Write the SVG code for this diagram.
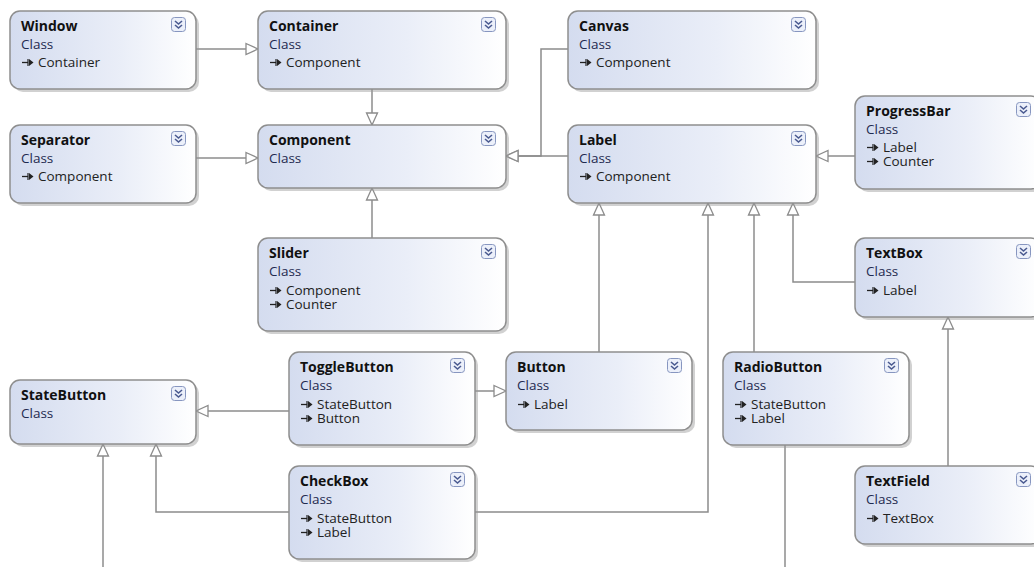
<svg xmlns="http://www.w3.org/2000/svg" xmlns:xlink="http://www.w3.org/1999/xlink" width="1034" height="567" viewBox="0 0 1034 567">
  <defs>
    <linearGradient id="boxFill" x1="0" y1="0" x2="1" y2="0">
      <stop offset="0" stop-color="#d4dcef"/>
      <stop offset="0.6" stop-color="#eaeef8"/>
      <stop offset="1" stop-color="#ffffff"/>
    </linearGradient>
    <marker id="inherit" markerUnits="userSpaceOnUse" markerWidth="14" markerHeight="14" refX="13" refY="6.5" orient="auto" viewBox="0 0 14 13">
      <path d="M1,1 L13,6.5 L1,12 Z" fill="#ffffff" stroke="#8c8c8c" stroke-width="1.3"/>
    </marker>
    <!-- base-type icon drawn before each member line -->
    <g id="baseIcon">
      <path d="M0,-4.5 L6,-4.5" stroke="#222" stroke-width="1.3" fill="none"/>
      <path d="M6,-8 L6,-1" stroke="#222" stroke-width="1.2" fill="none"/>
      <path d="M7,-8 L7,-1 L11.5,-4.5 Z" fill="#222"/>
    </g>
    <!-- collapse/expand toggle in the header -->
    <g id="toggle">
      <rect x="0.5" y="0.5" width="14" height="14" rx="3" fill="#ecf0fa" stroke="#8796c0" stroke-width="1"/>
      <path d="M4,4 L7.5,7 L11,4 M4,8 L7.5,11 L11,8" fill="none" stroke="#4a5a90" stroke-width="1.6"/>
    </g>
  </defs>
  <style>
    .shadow { fill: #9a9a9a; opacity: 0.45; }
    .box { fill: url(#boxFill); stroke: #8e8e8e; stroke-width: 1.5; }
    .title { font-family: "Open Sans", "DejaVu Sans", sans-serif; font-size: 14px; font-weight: bold; fill: #111; }
    .kind { font-family: "Open Sans", "DejaVu Sans", sans-serif; font-size: 13.5px; fill: #1e2a50; }
    .member { font-family: "Open Sans", "DejaVu Sans", sans-serif; font-size: 13.5px; fill: #222; }
    .link { fill: none; stroke: #8c8c8c; stroke-width: 1.5; marker-end: url(#inherit); }
    .plain { fill: none; stroke: #8c8c8c; stroke-width: 1.5; }
  </style>
  <rect width="1034" height="567" fill="#ffffff"/>

  <g id="connectors">
    <path class="link" d="M196,49 H258"/>
    <path class="link" d="M372,89 V125"/>
    <path class="link" d="M196,158 H258"/>
    <path class="link" d="M568,49 H541 V156 H506"/>
    <path class="link" d="M568,156 H506"/>
    <path class="link" d="M372,238 V188"/>
    <path class="link" d="M855,156 H816"/>
    <path class="link" d="M855,282 H793 V203"/>
    <path class="link" d="M599,352 V203"/>
    <path class="link" d="M475,512 H708 V203"/>
    <path class="link" d="M754,352 V203"/>
    <path class="link" d="M289,411 H196"/>
    <path class="link" d="M475,391 H506"/>
    <path class="link" d="M289,512 H156 V444"/>
    <path class="link" d="M103,567 V444"/>
    <path class="plain" d="M785,445 V567"/>
    <path class="link" d="M948,466 V317"/>
  </g>

  <g id="Window">
    <rect class="shadow" x="13" y="14" width="186" height="78" rx="10"/>
    <rect class="box" x="10" y="11" width="186" height="78" rx="10"/>
    <text class="title" x="21" y="31">Window</text>
    <text class="kind" x="21" y="49">Class</text>
    <use xlink:href="#baseIcon" x="22" y="67"/>
    <text class="member" x="38" y="67">Container</text>
    <use xlink:href="#toggle" x="171" y="17"/>
  </g>

  <g id="Container">
    <rect class="shadow" x="261" y="14" width="248" height="78" rx="10"/>
    <rect class="box" x="258" y="11" width="248" height="78" rx="10"/>
    <text class="title" x="269" y="31">Container</text>
    <text class="kind" x="269" y="49">Class</text>
    <use xlink:href="#baseIcon" x="270" y="67"/>
    <text class="member" x="286" y="67">Component</text>
    <use xlink:href="#toggle" x="481" y="17"/>
  </g>

  <g id="Canvas">
    <rect class="shadow" x="571" y="14" width="248" height="78" rx="10"/>
    <rect class="box" x="568" y="11" width="248" height="78" rx="10"/>
    <text class="title" x="579" y="31">Canvas</text>
    <text class="kind" x="579" y="49">Class</text>
    <use xlink:href="#baseIcon" x="580" y="67"/>
    <text class="member" x="596" y="67">Component</text>
    <use xlink:href="#toggle" x="791" y="17"/>
  </g>

  <g id="Separator">
    <rect class="shadow" x="13" y="128" width="186" height="78" rx="10"/>
    <rect class="box" x="10" y="125" width="186" height="78" rx="10"/>
    <text class="title" x="21" y="145">Separator</text>
    <text class="kind" x="21" y="163">Class</text>
    <use xlink:href="#baseIcon" x="22" y="181"/>
    <text class="member" x="38" y="181">Component</text>
    <use xlink:href="#toggle" x="171" y="131"/>
  </g>

  <g id="Component">
    <rect class="shadow" x="261" y="128" width="248" height="63" rx="10"/>
    <rect class="box" x="258" y="125" width="248" height="63" rx="10"/>
    <text class="title" x="269" y="145">Component</text>
    <text class="kind" x="269" y="163">Class</text>
    <use xlink:href="#toggle" x="481" y="131"/>
  </g>

  <g id="Label">
    <rect class="shadow" x="571" y="128" width="248" height="78" rx="10"/>
    <rect class="box" x="568" y="125" width="248" height="78" rx="10"/>
    <text class="title" x="579" y="145">Label</text>
    <text class="kind" x="579" y="163">Class</text>
    <use xlink:href="#baseIcon" x="580" y="181"/>
    <text class="member" x="596" y="181">Component</text>
    <use xlink:href="#toggle" x="791" y="131"/>
  </g>

  <g id="ProgressBar">
    <rect class="shadow" x="858" y="99" width="186" height="93" rx="10"/>
    <rect class="box" x="855" y="96" width="186" height="93" rx="10"/>
    <text class="title" x="866" y="116">ProgressBar</text>
    <text class="kind" x="866" y="134">Class</text>
    <use xlink:href="#baseIcon" x="867" y="152"/>
    <text class="member" x="883" y="152">Label</text>
    <use xlink:href="#baseIcon" x="867" y="166"/>
    <text class="member" x="883" y="166">Counter</text>
    <use xlink:href="#toggle" x="1016" y="102"/>
  </g>

  <g id="Slider">
    <rect class="shadow" x="261" y="241" width="248" height="93" rx="10"/>
    <rect class="box" x="258" y="238" width="248" height="93" rx="10"/>
    <text class="title" x="269" y="258">Slider</text>
    <text class="kind" x="269" y="276">Class</text>
    <use xlink:href="#baseIcon" x="270" y="295"/>
    <text class="member" x="286" y="295">Component</text>
    <use xlink:href="#baseIcon" x="270" y="309"/>
    <text class="member" x="286" y="309">Counter</text>
    <use xlink:href="#toggle" x="481" y="244"/>
  </g>

  <g id="TextBox">
    <rect class="shadow" x="858" y="241" width="186" height="79" rx="10"/>
    <rect class="box" x="855" y="238" width="186" height="79" rx="10"/>
    <text class="title" x="866" y="258">TextBox</text>
    <text class="kind" x="866" y="276">Class</text>
    <use xlink:href="#baseIcon" x="867" y="295"/>
    <text class="member" x="883" y="295">Label</text>
    <use xlink:href="#toggle" x="1016" y="244"/>
  </g>

  <g id="StateButton">
    <rect class="shadow" x="13" y="383" width="186" height="64" rx="10"/>
    <rect class="box" x="10" y="380" width="186" height="64" rx="10"/>
    <text class="title" x="21" y="400">StateButton</text>
    <text class="kind" x="21" y="418">Class</text>
    <use xlink:href="#toggle" x="171" y="386"/>
  </g>

  <g id="ToggleButton">
    <rect class="shadow" x="292" y="355" width="186" height="93" rx="10"/>
    <rect class="box" x="289" y="352" width="186" height="93" rx="10"/>
    <text class="title" x="300" y="372">ToggleButton</text>
    <text class="kind" x="300" y="390">Class</text>
    <use xlink:href="#baseIcon" x="301" y="409"/>
    <text class="member" x="317" y="409">StateButton</text>
    <use xlink:href="#baseIcon" x="301" y="423"/>
    <text class="member" x="317" y="423">Button</text>
    <use xlink:href="#toggle" x="450" y="358"/>
  </g>

  <g id="Button">
    <rect class="shadow" x="509" y="355" width="186" height="78" rx="10"/>
    <rect class="box" x="506" y="352" width="186" height="78" rx="10"/>
    <text class="title" x="517" y="372">Button</text>
    <text class="kind" x="517" y="390">Class</text>
    <use xlink:href="#baseIcon" x="518" y="409"/>
    <text class="member" x="534" y="409">Label</text>
    <use xlink:href="#toggle" x="667" y="358"/>
  </g>

  <g id="RadioButton">
    <rect class="shadow" x="726" y="355" width="186" height="93" rx="10"/>
    <rect class="box" x="723" y="352" width="186" height="93" rx="10"/>
    <text class="title" x="734" y="372">RadioButton</text>
    <text class="kind" x="734" y="390">Class</text>
    <use xlink:href="#baseIcon" x="735" y="409"/>
    <text class="member" x="751" y="409">StateButton</text>
    <use xlink:href="#baseIcon" x="735" y="423"/>
    <text class="member" x="751" y="423">Label</text>
    <use xlink:href="#toggle" x="884" y="358"/>
  </g>

  <g id="CheckBox">
    <rect class="shadow" x="292" y="469" width="186" height="93" rx="10"/>
    <rect class="box" x="289" y="466" width="186" height="93" rx="10"/>
    <text class="title" x="300" y="486">CheckBox</text>
    <text class="kind" x="300" y="504">Class</text>
    <use xlink:href="#baseIcon" x="301" y="523"/>
    <text class="member" x="317" y="523">StateButton</text>
    <use xlink:href="#baseIcon" x="301" y="537"/>
    <text class="member" x="317" y="537">Label</text>
    <use xlink:href="#toggle" x="450" y="472"/>
  </g>

  <g id="TextField">
    <rect class="shadow" x="858" y="469" width="186" height="78" rx="10"/>
    <rect class="box" x="855" y="466" width="186" height="78" rx="10"/>
    <text class="title" x="866" y="486">TextField</text>
    <text class="kind" x="866" y="504">Class</text>
    <use xlink:href="#baseIcon" x="867" y="523"/>
    <text class="member" x="883" y="523">TextBox</text>
    <use xlink:href="#toggle" x="1016" y="472"/>
  </g>
</svg>
